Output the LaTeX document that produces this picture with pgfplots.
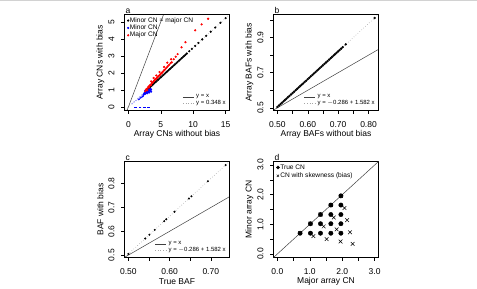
\documentclass[border=0pt]{standalone}
\usepackage{fontspec}
\setmainfont{Liberation Sans}
\usepackage{pgfplots}
\pgfplotsset{compat=1.18}

\newcommand{\fs}{\fontsize{8.5}{10}\selectfont}
\newcommand{\lfs}{\fontsize{6.6}{7.5}\selectfont}
\newcommand{\sfs}{\fontsize{6}{7}\selectfont}

\pgfplotsset{
  rpanel/.style={
    scale only axis, width=105pt, height=96pt,
    anchor=south west,
    axis line style={line width=0.5pt, black},
    tick align=outside, tick pos=left,
    major tick length=3.5pt,
    every tick/.append style={black, line width=0.5pt},
    ticklabel style={font=\fs},
    xticklabel shift=4pt,
    yticklabel shift=3pt,
    yticklabel style={rotate=90, anchor=south},
    label style={font=\fs},
    xlabel style={at={(axis description cs:0.5,-0.25)}, anchor=center},
    ylabel style={at={(axis description cs:-0.23,0.5)}, anchor=center},
    /pgf/number format/assume math mode=true,
    legend style={draw=none, fill=none, font=\lfs, inner sep=0.5pt,
      row sep=-0.5pt, nodes={inner sep=0.8pt}},
    legend cell align=left,
    clip mode=individual,
  },
  linelegend/.style={
    legend image code/.code={\draw[##1] (0pt,0pt) -- (11pt,0pt);},
    legend style={font=\sfs, nodes={inner xsep=2pt, inner ysep=0.8pt}},
  },
  marklegend/.style={
    legend image code/.code={\draw[##1] plot coordinates {(1.5pt,0pt)};},
  },
  refline/.style={black!75, line width=0.5pt},
  dotline/.style={gray!70, dotted, line width=0.6pt},
  pt/.style={only marks, mark=*, mark size=0.9pt},
}

\begin{document}
\begin{tikzpicture}
\useasboundingbox (0,0) rectangle (477pt,289pt);
\draw[gray!35, line width=1pt] (0,288.5pt) -- (477pt,288.5pt);

% ---------------- panel a: array copy numbers ----------------
\begin{axis}[rpanel, at={(124.5pt,178.5pt)}, hide axis,
  xmin=-0.6, xmax=15.6, ymin=-0.21, ymax=5.43, linelegend,
  legend style={at={(axis description cs:0.99,0.03)}, anchor=south east}]
  \addplot[refline] coordinates {(-1,-1) (16,16)};
  \addlegendentry{y = x}
  \addplot[dotline] coordinates {(-1,-0.348) (16,5.568)};
  \addlegendentry{y = 0.348 x}
\end{axis}
\begin{axis}[rpanel, at={(124.5pt,178.5pt)},
  xmin=-0.6, xmax=15.6, ymin=-0.21, ymax=5.43,
  xtick={0,5,10,15}, ytick={0,1,2,3,4,5},
  xlabel={Array CNs without bias}, ylabel={Array CNs with bias},
  marklegend,
  legend style={at={(axis description cs:0.02,0.985)}, anchor=north west}]
  \addplot[pt, black] coordinates {
    (3.0,1.044) (3.2,1.114) (3.4,1.183) (3.6,1.253) (3.8,1.322) (4.0,1.392)
    (4.2,1.462) (4.4,1.531) (4.6,1.601) (4.8,1.670) (5.0,1.740) (5.2,1.810)
    (5.4,1.879) (5.6,1.949) (5.8,2.018) (6.0,2.088) (6.2,2.158) (6.4,2.227)
    (6.6,2.297) (6.8,2.366) (7.0,2.436) (7.2,2.506) (7.4,2.575) (7.6,2.645)
    (7.8,2.714) (8.0,2.784) (8.2,2.854) (8.4,2.923) (8.6,2.993) (8.8,3.062)
    (9.0,3.132) (9.4,3.271) (9.8,3.410) (10.3,3.584) (10.8,3.758)
    (11.4,3.967) (12.0,4.176) (12.7,4.420) (13.4,4.663) (14.2,4.942) (15.0,5.220)};
  \addlegendentry{Minor CN = major CN}
  \addplot[pt, blue] coordinates {
    (1.6,0.46) (1.9,0.55) (2.2,0.62) (2.3,0.70) (2.4,0.75) (2.5,0.82) (2.6,0.78)
    (2.6,0.95) (2.7,0.88) (2.8,0.85) (2.9,0.92) (2.9,0.80) (3.0,0.95) (3.1,0.90)
    (3.2,1.00) (3.2,0.85) (3.3,0.97) (3.4,1.05) (3.5,1.02) (3.5,0.90)};
  \addlegendentry{Minor CN}
  \addplot[pt, red] coordinates {
    (2.6,0.92) (2.7,1.00) (2.8,1.05) (2.9,0.98) (3.0,1.12) (3.1,1.20) (3.2,1.15)
    (3.3,1.25) (3.4,1.30) (3.5,1.28) (3.6,1.38) (3.7,1.42) (3.8,1.45) (3.9,1.50)
    (4.0,1.55) (4.1,1.60) (4.2,1.62) (4.3,1.66) (4.4,1.70) (4.5,1.74) (4.6,1.80)
    (4.7,1.82) (4.8,1.86) (4.9,1.90) (5.0,1.95) (5.1,1.98) (5.2,2.02) (5.35,2.08)
    (5.5,2.15) (5.65,2.20) (5.8,2.27) (5.95,2.33) (6.1,2.40) (6.3,2.48) (6.5,2.57)
    (6.7,2.62) (7.0,2.80) (7.3,2.95) (7.6,3.10) (8.2,3.50) (8.8,3.80) (10.3,4.50)
    (11.3,4.85) (12.3,5.18) (3.5,1.50) (3.9,1.70) (4.3,1.85) (4.8,2.05) (5.5,2.35)
    (6.0,2.60) (6.6,2.80)};
  \addlegendentry{Major CN}
  % faint low-copy points along the bias line and the zero row
  \addplot[only marks, mark=*, mark size=0.5pt, blue!35, forget plot] coordinates {
    (0.6,0.20) (0.9,0.30) (1.2,0.38) (1.5,0.50) (1.8,0.60) (2.1,0.70)};
  \addplot[only marks, mark=-, mark size=1.4pt, blue, line width=0.6pt, forget plot]
    coordinates {(1.1,0) (1.8,0) (2.5,0) (3.1,0)};
  \node[anchor=south west, font=\fs, inner sep=1pt] at (rel axis cs:0,1) {a};
\end{axis}

% ---------------- panel b: array BAFs ----------------
\begin{axis}[rpanel, at={(273.5pt,178.5pt)}, hide axis,
  xmin=0.4872, xmax=0.8328, ymin=0.4848, ymax=1.0312, linelegend,
  legend style={at={(axis description cs:0.99,0.03)}, anchor=south east}]
  \addplot[refline] coordinates {(0.48,0.48) (0.84,0.84)};
  \addlegendentry{y = x}
  \addplot[dotline] coordinates {(0.48,0.4734) (0.84,1.0429)};
  \addlegendentry{y = $-$0.286 + 1.582 x}
\end{axis}
\begin{axis}[rpanel, at={(273.5pt,178.5pt)},
  xmin=0.4872, xmax=0.8328, ymin=0.4848, ymax=1.0312,
  xtick={0.50,0.55,0.60,0.65,0.70,0.75,0.80},
  xticklabels={0.50,,0.60,,0.70,,0.80},
  ytick={0.5,0.6,0.7,0.8,0.9,1.0},
  yticklabels={0.5,,0.7,,0.9,},
  xlabel={Array BAFs without bias}, ylabel={Array BAFs with bias}]
  \addplot[pt, black, mark size=1pt] table[row sep=\\] {
    x y\\
    0.500 0.5050\\ 0.505 0.5129\\ 0.510 0.5208\\ 0.515 0.5287\\ 0.520 0.5366\\
    0.525 0.5445\\ 0.530 0.5525\\ 0.535 0.5604\\ 0.540 0.5683\\ 0.545 0.5762\\
    0.550 0.5841\\ 0.555 0.5920\\ 0.560 0.5999\\ 0.565 0.6078\\ 0.570 0.6157\\
    0.575 0.6237\\ 0.580 0.6316\\ 0.585 0.6395\\ 0.590 0.6474\\ 0.595 0.6553\\
    0.600 0.6632\\ 0.605 0.6711\\ 0.610 0.6790\\ 0.615 0.6869\\ 0.620 0.6948\\
    0.625 0.7028\\ 0.630 0.7107\\ 0.635 0.7186\\ 0.640 0.7265\\ 0.645 0.7344\\
    0.650 0.7423\\ 0.655 0.7502\\ 0.660 0.7581\\ 0.665 0.7660\\ 0.670 0.7739\\
    0.675 0.7819\\ 0.680 0.7898\\ 0.685 0.7977\\ 0.690 0.8056\\ 0.695 0.8135\\
    0.700 0.8214\\ 0.705 0.8293\\ 0.710 0.8372\\ 0.715 0.8451\\ 0.725 0.8610\\
    0.820 1.0112\\
  };
  \node[anchor=south west, font=\fs, inner sep=1pt] at (rel axis cs:0,1) {b};
\end{axis}

% ---------------- panel c: true BAF ----------------
\begin{axis}[rpanel, at={(124.5pt,31.5pt)}, hide axis,
  xmin=0.4906, xmax=0.7454, ymin=0.4900, ymax=0.8933, linelegend,
  legend style={at={(axis description cs:0.99,0.03)}, anchor=south east}]
  \addplot[refline] coordinates {(0.48,0.48) (0.76,0.76)};
  \addlegendentry{y = x}
  \addplot[dotline] coordinates {(0.48,0.4734) (0.76,0.9163)};
  \addlegendentry{y = $-$0.286 + 1.582 x}
\end{axis}
\begin{axis}[rpanel, at={(124.5pt,31.5pt)},
  xmin=0.4906, xmax=0.7454, ymin=0.4900, ymax=0.8933,
  xtick={0.50,0.55,0.60,0.65,0.70},
  xticklabels={0.50,,0.60,,0.70},
  ytick={0.5,0.6,0.7,0.8},
  yticklabels={0.5,0.6,0.7,0.8},
  xlabel={True BAF}, ylabel={BAF with bias}]
  \addplot[only marks, mark=*, mark size=0.8pt, black] coordinates {
    (0.500,0.5050) (0.541,0.5699) (0.551,0.5857) (0.564,0.6062) (0.587,0.6426)
    (0.592,0.6505) (0.612,0.6822) (0.647,0.7376) (0.653,0.7470) (0.693,0.8103)
    (0.736,0.8784)};
  \node[anchor=south west, font=\fs, inner sep=1pt] at (rel axis cs:0,1) {c};
\end{axis}

% ---------------- panel d: major / minor array CN ----------------
\begin{axis}[rpanel, at={(273.5pt,31.5pt)},
  xmin=-0.12, xmax=3.12, ymin=-0.12, ymax=3.12,
  xtick={0,0.5,1,1.5,2,2.5,3}, xticklabels={0.0,,1.0,,2.0,,3.0},
  ytick={0,0.5,1,1.5,2,2.5,3}, yticklabels={0.0,,1.0,,2.0,,3.0},
  xlabel={Major array CN}, ylabel={Minor array CN},
  legend image code/.code={\draw[#1, mark size=1.6pt] plot coordinates {(2pt,0pt)};},
  legend style={at={(axis description cs:0.02,0.985)}, anchor=north west,
    row sep=0.5pt}]
  \addplot[refline, forget plot] coordinates {(-0.2,-0.2) (3.2,3.2)};
  \addplot[only marks, mark=*, mark size=2.2pt, black] coordinates {
    (0.70,0.70) (1.02,0.70) (1.33,0.70) (1.65,0.70) (1.96,0.70)
    (1.02,1.02) (1.33,1.02) (1.65,1.02) (1.96,1.02)
    (1.33,1.33) (1.65,1.33) (1.96,1.33)
    (1.65,1.65) (1.96,1.65)
    (1.96,1.96)};
  \addlegendentry{True CN}
  \addplot[only marks, mark=x, mark size=2.6pt, black, line width=0.5pt] coordinates {
    (0.70,0.70) (1.02,1.02) (1.33,1.33) (1.65,1.65) (1.96,1.96)
    (1.11,0.60) (1.43,0.93) (1.52,0.50) (1.74,1.23) (1.83,0.83)
    (1.95,0.42) (2.07,1.55) (2.15,1.14) (2.24,0.73) (2.32,0.34)};
  \addlegendentry{CN with skewness (bias)}
  \node[anchor=south west, font=\fs, inner sep=1pt] at (rel axis cs:0,1) {d};
\end{axis}
\end{tikzpicture}
\end{document}
